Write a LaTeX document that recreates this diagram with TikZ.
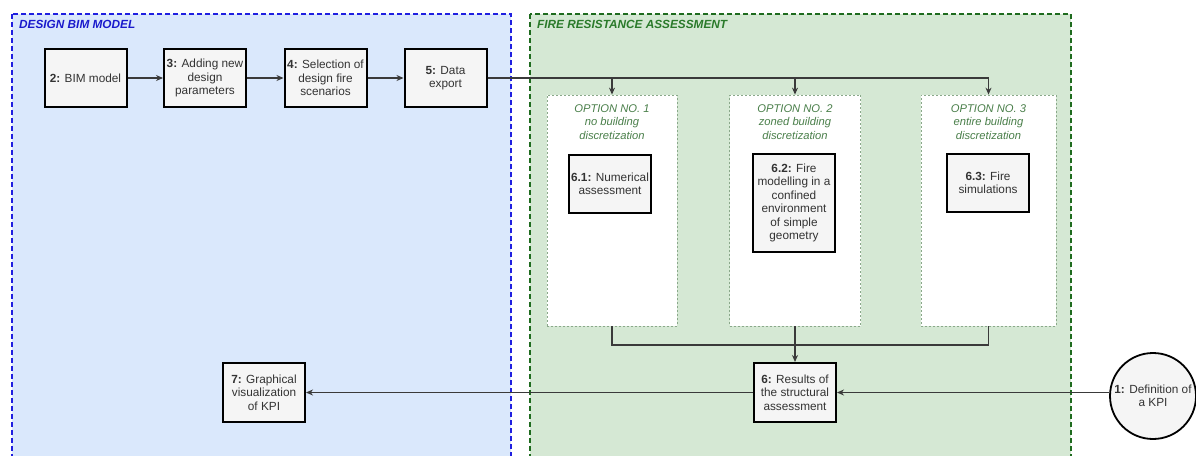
\documentclass[tikz,border=0pt]{standalone}
\usepackage{fontspec}
\setmainfont{Liberation Sans}
\usetikzlibrary{arrows.meta,shapes.geometric}
\definecolor{bimblue}{HTML}{DAE8FC}
\definecolor{firegreen}{HTML}{D5E8D4}
\definecolor{blueline}{HTML}{1F1FE0}
\definecolor{bluetitle}{HTML}{1A1ACC}
\definecolor{greenline}{HTML}{1E6B1E}
\definecolor{greentitle}{HTML}{2A7A2A}
\definecolor{opttext}{HTML}{4A7F4A}
\definecolor{optborder}{HTML}{8AA88A}
\definecolor{boxfill}{HTML}{F5F5F5}
\definecolor{txt}{HTML}{333333}
\definecolor{conncol}{HTML}{3A3A3A}
\begin{document}
\begin{tikzpicture}[x=1pt,y=-1pt,
  stepbox/.style={draw=black, line width=2pt, fill=boxfill, text=txt,
    font=\fontsize{11.8}{13.5}\selectfont, align=center, inner sep=1pt,
    minimum width=82pt, minimum height=58pt},
  optbox/.style={draw=optborder, line width=0.8pt, dash pattern=on 2pt off 2pt,
    fill=white, inner sep=0pt},
  optlabel/.style={text=opttext, font=\itshape\fontsize{11.2}{13.5}\selectfont,
    align=center, inner sep=0pt, anchor=north},
  grouptitle/.style={font=\bfseries\itshape\fontsize{11.8}{14}\selectfont,
    anchor=west, inner sep=0pt},
  conn/.style={draw=conncol, line width=1.1pt},
  arr/.style={conn, -{Stealth[length=7pt,width=6pt]}}
]
\clip (0,0) rectangle (1196,455);
\fill[white] (0,0) rectangle (1196,455);
\useasboundingbox (0,0) rectangle (1196,455);

% group containers
\draw[fill=bimblue, draw=blueline, line width=1.8pt, dash pattern=on 5pt off 3pt]
  (12,14) rectangle (511,470);
\draw[fill=firegreen, draw=greenline, line width=1.5pt, dash pattern=on 5pt off 3pt]
  (530,14) rectangle (1071,470);
\node[grouptitle, text=bluetitle] (t1) at (19,24) {DESIGN BIM MODEL};
\node[grouptitle, text=greentitle] (t2) at (537,24) {FIRE RESISTANCE ASSESSMENT};

% top row
\node[stepbox] (b2) at (85.5,78) {\textbf{2:} BIM model};
\node[stepbox] (b3) at (205,78) {\textbf{3:} Adding new\\design\\parameters};
\node[stepbox] (b4) at (325.5,78) {\textbf{4:} Selection of\\design fire\\scenarios};
\node[stepbox] (b5) at (445.5,78) {\textbf{5:} Data\\export};

% option panels
\node[optbox, minimum width=130pt, minimum height=231pt] (o1) at (612,210.5) {};
\node[optbox, minimum width=131pt, minimum height=231pt] (o2) at (795,210.5) {};
\node[optbox, minimum width=135pt, minimum height=231pt] (o3) at (988.5,210.5) {};
\node[optlabel] (l1) at (612,104) {OPTION NO. 1\\no building\\discretization};
\node[optlabel] (l2) at (795,104) {OPTION NO. 2\\zoned building\\discretization};
\node[optlabel] (l3) at (988.5,104) {OPTION NO. 3\\entire building\\discretization};

\node[stepbox] (b61) at (610,184) {\textbf{6.1:} Numerical\\assessment};
\node[stepbox, minimum height=98pt] (b62) at (794,203)
  {\textbf{6.2:} Fire\\modelling in a\\confined\\environment\\of simple\\geometry};
\node[stepbox] (b63) at (988,183) {\textbf{6.3:} Fire\\simulations};

% bottom row
\node[stepbox, minimum height=59pt] (b6) at (795,392.5) {\textbf{6:} Results of\\the structural\\assessment};
\node[stepbox, minimum height=59pt] (b7) at (264,392.5) {\textbf{7:} Graphical\\visualization\\of KPI};
\node[circle, draw=black, line width=1.8pt, fill=boxfill, text=txt, minimum size=86pt,
  inner sep=0pt, align=center, font=\fontsize{11.8}{13.5}\selectfont] (c1) at (1153,396)
  {\textbf{1:} Definition of\\a KPI};

\coordinate (mg) at (795,345);

% connectors
\draw[arr] (b2) -- (b3);
\draw[arr] (b3) -- (b4);
\draw[arr] (b4) -- (b5);
\draw[arr] (b5.east) -| (o1.north);
\draw[arr] (b5.east) -| (o2.north);
\draw[arr] (b5.east) -| (o3.north);
\draw[conn] (o1.south) |- (mg) -| (o3.south);
\draw[arr] (o2.south) -- (b6.north);
\draw[arr] (c1.west |- b6.east) -- (b6.east);
\draw[arr] (b6.west) -- (b7.east);
\end{tikzpicture}
\end{document}
